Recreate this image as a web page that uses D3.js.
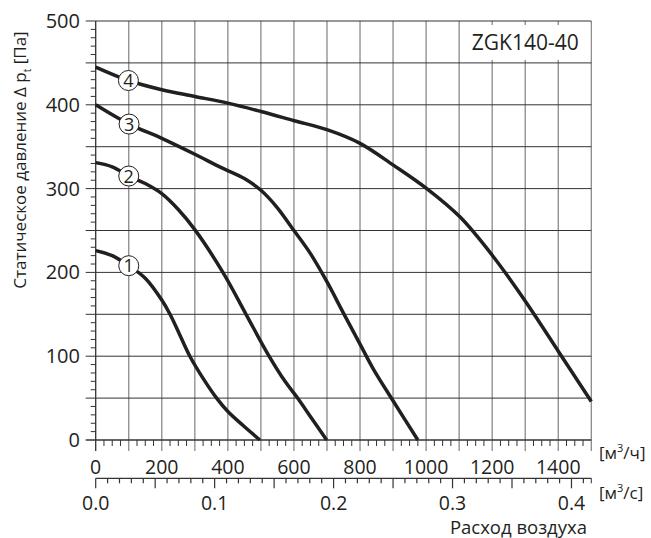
<!DOCTYPE html>
<html>
<head>
<meta charset="utf-8">
<script src="https://cdn.jsdelivr.net/npm/d3@7"></script>
<style>
  body { margin: 0; background: #fff; }
  text { font-family: "Open Sans", sans-serif; fill: #231f20; }
</style>
</head>
<body>
<svg id="canvas" width="651" height="538"></svg>
<script>
// curve data: air flow [m3/h] and static pressure [Pa]
var flow1 = [0, 50, 100, 150, 200, 225, 255, 285, 326, 366, 400, 447, 497];
var press1 = [226, 220, 208, 193, 167, 150, 125, 100, 73, 50, 34, 17, 0];

var flow2 = [0, 50, 100, 150, 200, 250, 300, 385, 455, 522, 573, 611, 655, 699];
var press2 = [331, 326, 315, 306, 294, 275, 251, 200, 150, 102, 70, 50, 25, 0];

var flow3 = [0, 101, 200, 300, 380, 450, 500, 548, 600, 649, 701, 749, 802, 840, 898, 975];
var press3 = [400, 377, 360, 341, 325, 312, 298, 278, 250, 223, 188, 152, 113, 85, 48, 0];

var flow4 = [0, 99, 200, 300, 400, 500, 601, 702, 800, 901, 1002, 1103, 1203, 1305, 1405, 1500];
var press4 = [445, 429, 418, 410, 402, 392, 381, 370, 354, 328, 300, 266, 219, 163, 103, 46];

var curveNames = ['1', '2', '3', '4'];
var labelFlow = 100;

var yTicks = [0, 100, 200, 300, 400, 500];
var xTicksH = [0, 200, 400, 600, 800, 1000, 1200, 1400];
var xTicksS = [0.0, 0.1, 0.2, 0.3, 0.4];

var svg = d3.select('#canvas');

var x = d3.scaleLinear().domain([0, 1500]).range([95.7, 591.3]);
var y = d3.scaleLinear().domain([0, 500]).range([440, 21]);
var xs = d3.scaleLinear().domain([0, 1500 / 3600]).range([95.7, 591.3]);

// grid
var grid = svg.append('g');
grid.selectAll('line.v')
    .data(d3.range(100, 1501, 100))
    .enter()
    .append('line')
    .attr('x1', function(d) { return x(d); })
    .attr('x2', function(d) { return x(d); })
    .attr('y1', y(500))
    .attr('y2', y(0) + 11)
    .attr('stroke', '#8a8a8a')
    .attr('stroke-width', 1.3);

grid.selectAll('line.h')
    .data(d3.range(50, 501, 50))
    .enter()
    .append('line')
    .attr('x1', x(0) - 10)
    .attr('x2', x(1500))
    .attr('y1', function(d) { return y(d); })
    .attr('y2', function(d) { return y(d); })
    .attr('stroke', '#333')
    .attr('stroke-width', 1);

// y minor ticks
grid.selectAll('line.ym')
    .data(d3.range(10, 500, 10).filter(function(d) { return d % 50 !== 0; }))
    .enter()
    .append('line')
    .attr('x1', x(0) - 5)
    .attr('x2', x(0))
    .attr('y1', function(d) { return y(d); })
    .attr('y2', function(d) { return y(d); })
    .attr('stroke', '#333');

// axes lines
svg.append('line')
    .attr('x1', x(0)).attr('x2', x(0))
    .attr('y1', y(500)).attr('y2', y(0) + 11)
    .attr('stroke', '#333').attr('stroke-width', 1.3);
svg.append('line')
    .attr('x1', x(0) - 10).attr('x2', x(1500))
    .attr('y1', y(0)).attr('y2', y(0))
    .attr('stroke', '#333').attr('stroke-width', 1.3);

// x minor ticks (m3/h)
svg.selectAll('line.xm')
    .data(d3.range(25, 1500, 25).filter(function(d) { return d % 100 !== 0; }))
    .enter()
    .append('line')
    .attr('x1', function(d) { return x(d); })
    .attr('x2', function(d) { return x(d); })
    .attr('y1', y(0))
    .attr('y2', y(0) + 6)
    .attr('stroke', '#333');

// y labels
svg.selectAll('text.yl')
    .data(yTicks)
    .enter()
    .append('text')
    .attr('x', 80)
    .attr('y', function(d) { return y(d) + 7; })
    .attr('text-anchor', 'end')
    .attr('font-size', 20)
    .text(function(d) { return d; });

// x labels (m3/h)
svg.selectAll('text.xl')
    .data(xTicksH)
    .enter()
    .append('text')
    .attr('x', function(d) { return x(d); })
    .attr('y', 474)
    .attr('text-anchor', 'middle')
    .attr('font-size', 19.5)
    .text(function(d) { return d; });

// second axis (m3/s)
var axS = 478.3;
svg.append('line')
    .attr('x1', xs(0)).attr('x2', xs(1500 / 3600))
    .attr('y1', axS).attr('y2', axS)
    .attr('stroke', '#333').attr('stroke-width', 1.3);
svg.selectAll('line.sm')
    .data(d3.range(0, 42))
    .enter()
    .append('line')
    .attr('x1', function(d) { return xs(d / 100); })
    .attr('x2', function(d) { return xs(d / 100); })
    .attr('y1', axS)
    .attr('y2', function(d) { return axS + (d % 5 === 0 ? 10 : 5); })
    .attr('stroke', '#333')
    .attr('stroke-width', 1.2);
svg.append('line')
    .attr('x1', xs(1500 / 3600)).attr('x2', xs(1500 / 3600))
    .attr('y1', axS).attr('y2', axS + 5)
    .attr('stroke', '#333');

svg.selectAll('text.sl')
    .data(xTicksS)
    .enter()
    .append('text')
    .attr('x', function(d) { return xs(d); })
    .attr('y', 510)
    .attr('text-anchor', 'middle')
    .attr('font-size', 19.5)
    .text(function(d) { return d.toFixed(1); });

// unit labels
var u1 = svg.append('text').attr('x', 599).attr('y', 459).attr('font-size', 17);
u1.append('tspan').text('[м');
u1.append('tspan').attr('font-size', 11).attr('dy', -7).text('3');
u1.append('tspan').attr('dy', 7).text('/ч]');

var u2 = svg.append('text').attr('x', 599).attr('y', 499).attr('font-size', 17);
u2.append('tspan').text('[м');
u2.append('tspan').attr('font-size', 11).attr('dy', -7).text('3');
u2.append('tspan').attr('dy', 7).text('/с]');

svg.append('text')
    .attr('x', 587)
    .attr('y', 534)
    .attr('text-anchor', 'end')
    .attr('font-size', 18.5)
    .text('Расход воздуха');

// y axis title
var yt = svg.append('text')
    .attr('transform', 'translate(26,160) rotate(-90)')
    .attr('text-anchor', 'middle')
    .attr('font-size', 17);
yt.append('tspan').text('Статическое давление Δ p');
yt.append('tspan').attr('font-size', 10).attr('dy', 5).text('t');
yt.append('tspan').attr('dy', -5).text(' [Па]');

// model box
svg.append('rect')
    .attr('x', x(1100) + 1)
    .attr('y', y(500) + 4)
    .attr('width', x(1500) - x(1100) - 2)
    .attr('height', y(450) - y(500) - 7)
    .attr('fill', '#fff');
svg.append('text')
    .attr('x', (x(1100) + x(1500)) / 2)
    .attr('y', 50)
    .attr('text-anchor', 'middle')
    .attr('font-size', 21)
    .text('ZGK140-40');

// curves
var series = [
    { name: curveNames[0], q: flow1, p: press1 },
    { name: curveNames[1], q: flow2, p: press2 },
    { name: curveNames[2], q: flow3, p: press3 },
    { name: curveNames[3], q: flow4, p: press4 }
];

var line = d3.line()
    .x(function(d) { return x(d[0]); })
    .y(function(d) { return y(d[1]); })
    .curve(d3.curveCatmullRom.alpha(0.5));

svg.selectAll('path.curve')
    .data(series)
    .enter()
    .append('path')
    .attr('d', function(d) { return line(d3.zip(d.q, d.p)); })
    .attr('fill', 'none')
    .attr('stroke', '#231f20')
    .attr('stroke-width', 3.5);

// curve number markers
var marks = svg.selectAll('g.mark')
    .data(series)
    .enter()
    .append('g')
    .attr('transform', function(d) {
        var i = d.q.indexOf(d3.least(d.q, function(v) { return Math.abs(v - labelFlow); }));
        return 'translate(' + x(d.q[i]) + ',' + y(d.p[i]) + ')';
    });
marks.append('circle')
    .attr('r', 10)
    .attr('fill', '#fff')
    .attr('stroke', '#231f20')
    .attr('stroke-width', 1);
marks.append('text')
    .attr('y', 6.5)
    .attr('text-anchor', 'middle')
    .attr('font-size', 18)
    .text(function(d) { return d.name; });
</script>
</body>
</html>
